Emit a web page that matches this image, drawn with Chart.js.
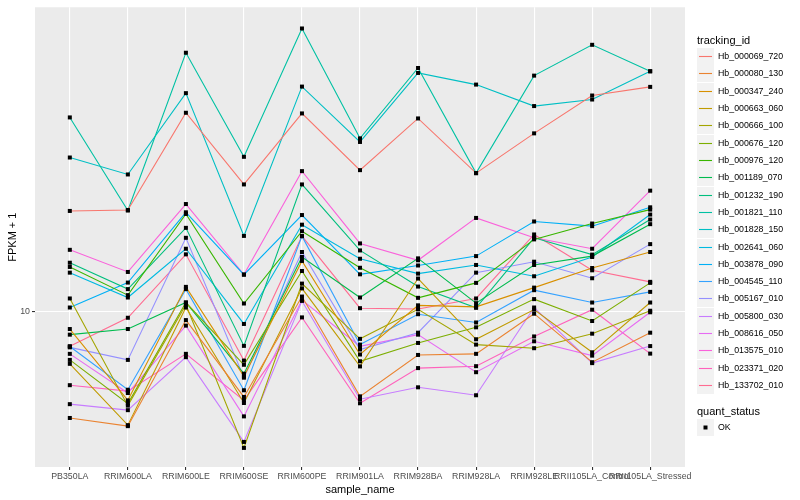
<!DOCTYPE html>
<html>
<head>
<meta charset="utf-8">
<script src="https://cdn.jsdelivr.net/npm/chart.js@4.4.0/dist/chart.umd.min.js"></script>
<style>
  body { margin:0; background:#fff; }
</style>
</head>
<body>
<canvas id="chart" width="800" height="500"></canvas>
<script>
const samples = ['PB350LA','RRIM600LA','RRIM600LE','RRIM600SE','RRIM600PE','RRIM901LA',
  'RRIM928BA','RRIM928LA','RRIM928LE','RRII105LA_Control','RRII105LA_Stressed'];

const trackingIds = ['Hb_000069_720','Hb_000080_130','Hb_000347_240','Hb_000663_060','Hb_000666_100',
  'Hb_000676_120','Hb_000976_120','Hb_001189_070','Hb_001232_190','Hb_001821_110','Hb_001828_150',
  'Hb_002641_060','Hb_003878_090','Hb_004545_110','Hb_005167_010','Hb_005800_030','Hb_008616_050',
  'Hb_013575_010','Hb_023371_020','Hb_133702_010'];

// FPKM + 1, one array per gene, in sample order
const Hb_000069_720 = [17.92, 18.02, 31.62, 20.89, 31.50, 22.69, 30.60, 22.30, 28.07, 34.94, 36.73];
const Hb_000080_130 = [5.41, 5.16, 9.53, 6.11, 10.92, 6.13, 7.79, 7.84, 9.89, 7.47, 8.86];
const Hb_000347_240 = [9.05, 5.99, 11.55, 6.88, 13.42, 7.81, 10.38, 10.29, 11.50, 12.88, 14.13];
const Hb_000663_060 = [7.40, 5.19, 10.25, 5.90, 11.45, 7.29, 12.12, 8.53, 10.13, 7.91, 10.55];
const Hb_000666_100 = [10.80, 5.81, 10.41, 4.55, 11.77, 8.55, 10.14, 8.27, 8.10, 8.81, 10.06];
const Hb_000676_120 = [7.57, 5.88, 10.55, 7.36, 12.66, 7.51, 8.35, 9.14, 10.76, 9.48, 11.82];
const Hb_000976_120 = [12.96, 11.01, 17.61, 10.49, 15.94, 12.90, 10.84, 11.82, 15.20, 16.66, 18.06];
const Hb_001189_070 = [8.76, 9.05, 10.55, 6.99, 13.73, 10.86, 13.62, 10.51, 13.11, 13.80, 16.60];
const Hb_001232_190 = [13.28, 11.40, 16.25, 8.21, 20.89, 14.26, 11.57, 10.23, 15.34, 13.92, 17.05];
const Hb_001821_110 = [30.78, 17.96, 44.75, 24.51, 51.49, 27.27, 40.97, 22.30, 39.20, 46.85, 40.20];
const Hb_001828_150 = [24.41, 22.13, 35.42, 15.51, 36.79, 26.71, 39.81, 37.22, 32.87, 34.14, 40.20];
const Hb_002641_060 = [12.54, 10.86, 14.40, 9.32, 16.55, 13.59, 12.47, 13.11, 12.28, 13.73, 17.55];
const Hb_003878_090 = [10.25, 11.84, 17.78, 12.40, 17.50, 12.42, 13.07, 13.80, 16.86, 16.41, 18.30];
const Hb_004545_110 = [8.18, 6.37, 11.40, 6.35, 15.49, 8.27, 9.86, 9.40, 11.33, 10.55, 11.22];
const Hb_005167_010 = [8.14, 7.57, 15.34, 6.83, 14.13, 8.04, 8.86, 12.54, 13.36, 12.14, 14.79];
const Hb_005800_030 = [5.86, 5.66, 7.69, 4.71, 10.65, 6.03, 6.46, 6.17, 10.25, 7.43, 8.20];
const Hb_008616_050 = [7.84, 6.25, 9.23, 5.46, 10.70, 8.19, 8.76, 7.05, 8.43, 7.76, 9.97];
const Hb_013575_010 = [14.31, 12.59, 18.65, 12.40, 22.56, 14.85, 13.47, 17.21, 15.34, 14.40, 20.15];
const Hb_023371_020 = [6.54, 6.32, 7.84, 5.99, 9.68, 5.89, 7.22, 7.30, 8.67, 10.12, 7.85];
const Hb_133702_010 = [8.19, 9.66, 13.94, 7.54, 15.49, 10.21, 10.16, 10.80, 15.64, 12.71, 11.89];

const yTicks = [10];

const series = [Hb_000069_720, Hb_000080_130, Hb_000347_240, Hb_000663_060, Hb_000666_100,
  Hb_000676_120, Hb_000976_120, Hb_001189_070, Hb_001232_190, Hb_001821_110, Hb_001828_150,
  Hb_002641_060, Hb_003878_090, Hb_004545_110, Hb_005167_010, Hb_005800_030, Hb_008616_050,
  Hb_013575_010, Hb_023371_020, Hb_133702_010];

// ggplot default hue palette, 20 levels
const colors = ['#F8766D','#EA8331','#D89000','#C09B00','#A3A500','#7CAE00','#39B600','#00BB4E',
  '#00BF7D','#00C1A3','#00BFC4','#00BAE0','#00B0F6','#35A2FF','#9590FF','#C77CFF','#E76BF3',
  '#FA62DB','#FF62BC','#FF6C91'];

const FONT = '"Liberation Sans", Arial, sans-serif';
Chart.defaults.font.family = FONT;

const panelBg = {
  id:'panelBg',
  beforeDraw(c){
    const a = c.chartArea, ctx = c.ctx;
    ctx.save();
    ctx.fillStyle = '#EBEBEB';
    ctx.fillRect(a.left, a.top, a.right - a.left, a.bottom - a.top);
    ctx.restore();
  }
};

// points go on top of every line, like geom_point after geom_line
const pointsOnTop = {
  id:'pointsOnTop',
  afterDatasetsDraw(c){
    const ctx = c.ctx;
    ctx.save();
    ctx.fillStyle = '#000';
    c.data.datasets.forEach((d, i) => {
      c.getDatasetMeta(i).data.forEach(p => ctx.fillRect(p.x - 2, p.y - 2, 4, 4));
    });
    ctx.restore();
  }
};

// ggplot-style legend at the right
const ggLegend = {
  id:'ggLegend',
  afterDraw(c){
    const ctx = c.ctx, x0 = 697, step = 17.32;
    ctx.save();
    ctx.textBaseline = 'middle';
    ctx.textAlign = 'left';
    ctx.fillStyle = '#000';
    ctx.font = '11px ' + FONT;
    ctx.fillText('tracking_id', x0, 41);
    ctx.font = '8.8px ' + FONT;
    c.data.datasets.forEach((d, i) => {
      const top = Math.round(48 + i * step), mid = top + 8.5;
      ctx.fillStyle = '#F2F2F2';
      ctx.fillRect(x0, top, 17, 17);
      ctx.strokeStyle = d.borderColor;
      ctx.lineWidth = 1.1;
      ctx.beginPath();
      ctx.moveTo(x0 + 2, mid);
      ctx.lineTo(x0 + 15, mid);
      ctx.stroke();
      ctx.fillStyle = '#000';
      ctx.fillText(d.label, x0 + 21, mid);
    });
    ctx.font = '11px ' + FONT;
    ctx.fillText('quant_status', x0, 412);
    ctx.fillStyle = '#F2F2F2';
    ctx.fillRect(x0, 419, 17, 17);
    ctx.fillStyle = '#000';
    ctx.fillRect(x0 + 6.5, 425.5, 4, 4);
    ctx.font = '8.8px ' + FONT;
    ctx.fillText('OK', x0 + 21, 427.5);
    ctx.restore();
  }
};

new Chart(document.getElementById('chart'), {
  type:'line',
  data:{
    datasets: series.map((vals, i) => ({
      label: trackingIds[i],
      data: vals.map((v, j) => ({x:j, y:v})),
      borderColor: colors[i],
      borderWidth: 1.1,
      pointRadius: 0,
      tension: 0
    }))
  },
  options:{
    responsive:false,
    animation:false,
    layout:{ padding:{ left:0, top:5, right:115, bottom:0 } },
    plugins:{ legend:{display:false}, tooltip:{enabled:false} },
    scales:{
      x:{
        type:'linear', min:-0.6, max:10.6,
        afterBuildTicks: s => { s.ticks = samples.map((_, i) => ({value:i})); },
        afterFit: s => { s.height = 33; },
        ticks:{ autoSkip:false, maxRotation:0, minRotation:0, padding:1,
          color:'#4D4D4D', font:{size:8.8}, callback: v => samples[v] },
        grid:{ color:'#fff', lineWidth:1.1, tickColor:'#333', tickLength:3 },
        border:{ display:false },
        title:{ display:true, text:'sample_name', color:'#000', font:{size:11}, padding:{top:1, bottom:3} }
      },
      y:{
        type:'logarithmic', min:4.074, max:58.21,
        afterBuildTicks: s => { s.ticks = yTicks.map(v => ({value:v})); },
        afterFit: s => { s.width = 35; },
        ticks:{ padding:2, color:'#4D4D4D', font:{size:8.8}, callback: v => String(v) },
        grid:{ color:'#fff', lineWidth:1.1, tickColor:'#333', tickLength:3 },
        border:{ display:false },
        title:{ display:true, text:'FPKM + 1', color:'#000', font:{size:11}, padding:{top:6, bottom:0} }
      }
    }
  },
  plugins:[panelBg, pointsOnTop, ggLegend]
});
</script>
</body>
</html>
